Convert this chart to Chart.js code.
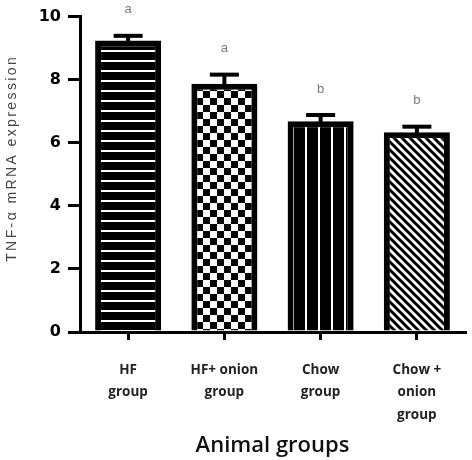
<!DOCTYPE html>
<html>
<head>
<meta charset="utf-8">
<script src="https://cdn.jsdelivr.net/npm/chart.js@4.4.1/dist/chart.umd.min.js"></script>
<style>
  body { margin: 0; background: #fff; }
  #wrap { width: 472px; height: 460px; }
</style>
</head>
<body>
<div id="wrap"><canvas id="tnfChart" width="472" height="460"></canvas></div>
<script>
const groups = [['HF', 'group'], ['HF+ onion', 'group'], ['Chow', 'group'], ['Chow +', 'onion', 'group']];
const tnfMeans = [9.24, 7.87, 6.68, 6.33];
const tnfErrors = [0.15, 0.29, 0.2, 0.18];
const sigLetters = ['a', 'a', 'b', 'b'];
const yTicks = [0, 2, 4, 6, 8, 10];

// fill patterns, like the old GraphPad hatches
function makePattern(size, draw) {
  const c = document.createElement('canvas');
  c.width = size[0];
  c.height = size[1];
  const g = c.getContext('2d');
  draw(g, size[0], size[1]);
  return document.getElementById('tnfChart').getContext('2d').createPattern(c, 'repeat');
}

const hLines = makePattern([10, 10], (g, w, h) => {
  g.fillStyle = '#000'; g.fillRect(0, 0, w, h);
  g.fillStyle = '#fff'; g.fillRect(0, 0, w, 2);
});
const checker = makePattern([14, 14], (g, w, h) => {
  g.fillStyle = '#fff'; g.fillRect(0, 0, w, h);
  g.fillStyle = '#000'; g.fillRect(0, 0, 7, 7); g.fillRect(7, 7, 7, 7);
});
const vLines = makePattern([13, 10], (g, w, h) => {
  g.fillStyle = '#000'; g.fillRect(0, 0, w, h);
  g.fillStyle = '#fff'; g.fillRect(6, 0, 2, h);
});
const diag = makePattern([8, 8], (g, w, h) => {
  g.fillStyle = '#fff'; g.fillRect(0, 0, w, h);
  g.strokeStyle = '#000'; g.lineWidth = 3;
  g.beginPath();
  g.moveTo(-2, -2); g.lineTo(w + 2, h + 2);
  g.moveTo(-2, h - 2); g.lineTo(2, h + 2);
  g.moveTo(w - 2, -2); g.lineTo(w + 2, 2);
  g.stroke();
});

const errorBars = {
  id: 'errorBars',
  afterDatasetsDraw(chart) {
    const { ctx, scales: { x, y } } = chart;
    ctx.save();
    tnfMeans.forEach((m, i) => {
      const cx = x.getPixelForValue(i);
      const top = y.getPixelForValue(m);
      const cap = y.getPixelForValue(m + tnfErrors[i]);
      ctx.fillStyle = '#000';
      ctx.fillRect(cx - 2, cap, 4, top - cap + 1);
      ctx.fillRect(cx - 14.5, cap - 2, 29, 4);
      // letters above
      ctx.font = '13px "Liberation Sans", Arial, sans-serif';
      ctx.fillStyle = '#7a7a7a';
      ctx.textAlign = 'center';
      ctx.textBaseline = 'middle';
      ctx.fillText(sigLetters[i], cx, cap - 26);
    });
    ctx.restore();
  }
};

const yTitle = {
  id: 'yTitle',
  afterDraw(chart) {
    const { ctx, chartArea } = chart;
    ctx.save();
    ctx.translate(12, (chartArea.top + chartArea.bottom) / 2 - 16);
    ctx.rotate(-Math.PI / 2);
    ctx.font = '14px "Liberation Sans", Arial, sans-serif';
    ctx.letterSpacing = '2.4px';
    ctx.fillStyle = '#444';
    ctx.textAlign = 'center';
    ctx.textBaseline = 'middle';
    ctx.fillText('TNF-\u03b1 mRNA expression', 0, 0);
    ctx.restore();
  }
};

new Chart(document.getElementById('tnfChart'), {
  type: 'bar',
  data: {
    labels: groups,
    datasets: [{
      data: tnfMeans,
      backgroundColor: [hLines, checker, vLines, diag],
      borderColor: '#000',
      borderWidth: 6,
      borderSkipped: 'start',
      barPercentage: 0.686,
      categoryPercentage: 1
    }]
  },
  options: {
    responsive: false,
    animation: false,
    layout: { padding: { top: 11, right: 7, left: 0, bottom: 0 } },
    plugins: { legend: { display: false }, tooltip: { enabled: false } },
    scales: {
      y: {
        min: 0,
        max: 10,
        afterFit: s => { s.width = 80; },
        afterBuildTicks: s => { s.ticks = yTicks.map(v => ({ value: v })); },
        border: { color: '#000', width: 3 },
        grid: { drawOnChartArea: false, color: '#000', lineWidth: 3, tickLength: 12 },
        ticks: {
          color: '#000',
          padding: 7,
          font: { family: '"DejaVu Sans", sans-serif', size: 16, weight: 'bold' }
        }
      },
      x: {
        afterFit: s => { s.height = 128; },
        border: { color: '#000', width: 3 },
        grid: { drawOnChartArea: false, offset: false, color: '#000', lineWidth: 3, tickLength: 8 },
        ticks: {
          color: '#222',
          padding: 19,
          font: { family: '"Open Sans", sans-serif', size: 13.5, weight: 'bold', lineHeight: 1.65 }
        },
        title: {
          display: true,
          text: 'Animal groups',
          color: '#111',
          padding: { top: 0, bottom: 1 },
          font: { family: '"Open Sans", sans-serif', size: 22, weight: '600', lineHeight: 1.2 }
        }
      }
    }
  },
  plugins: [errorBars, yTitle]
});
</script>
</body>
</html>
